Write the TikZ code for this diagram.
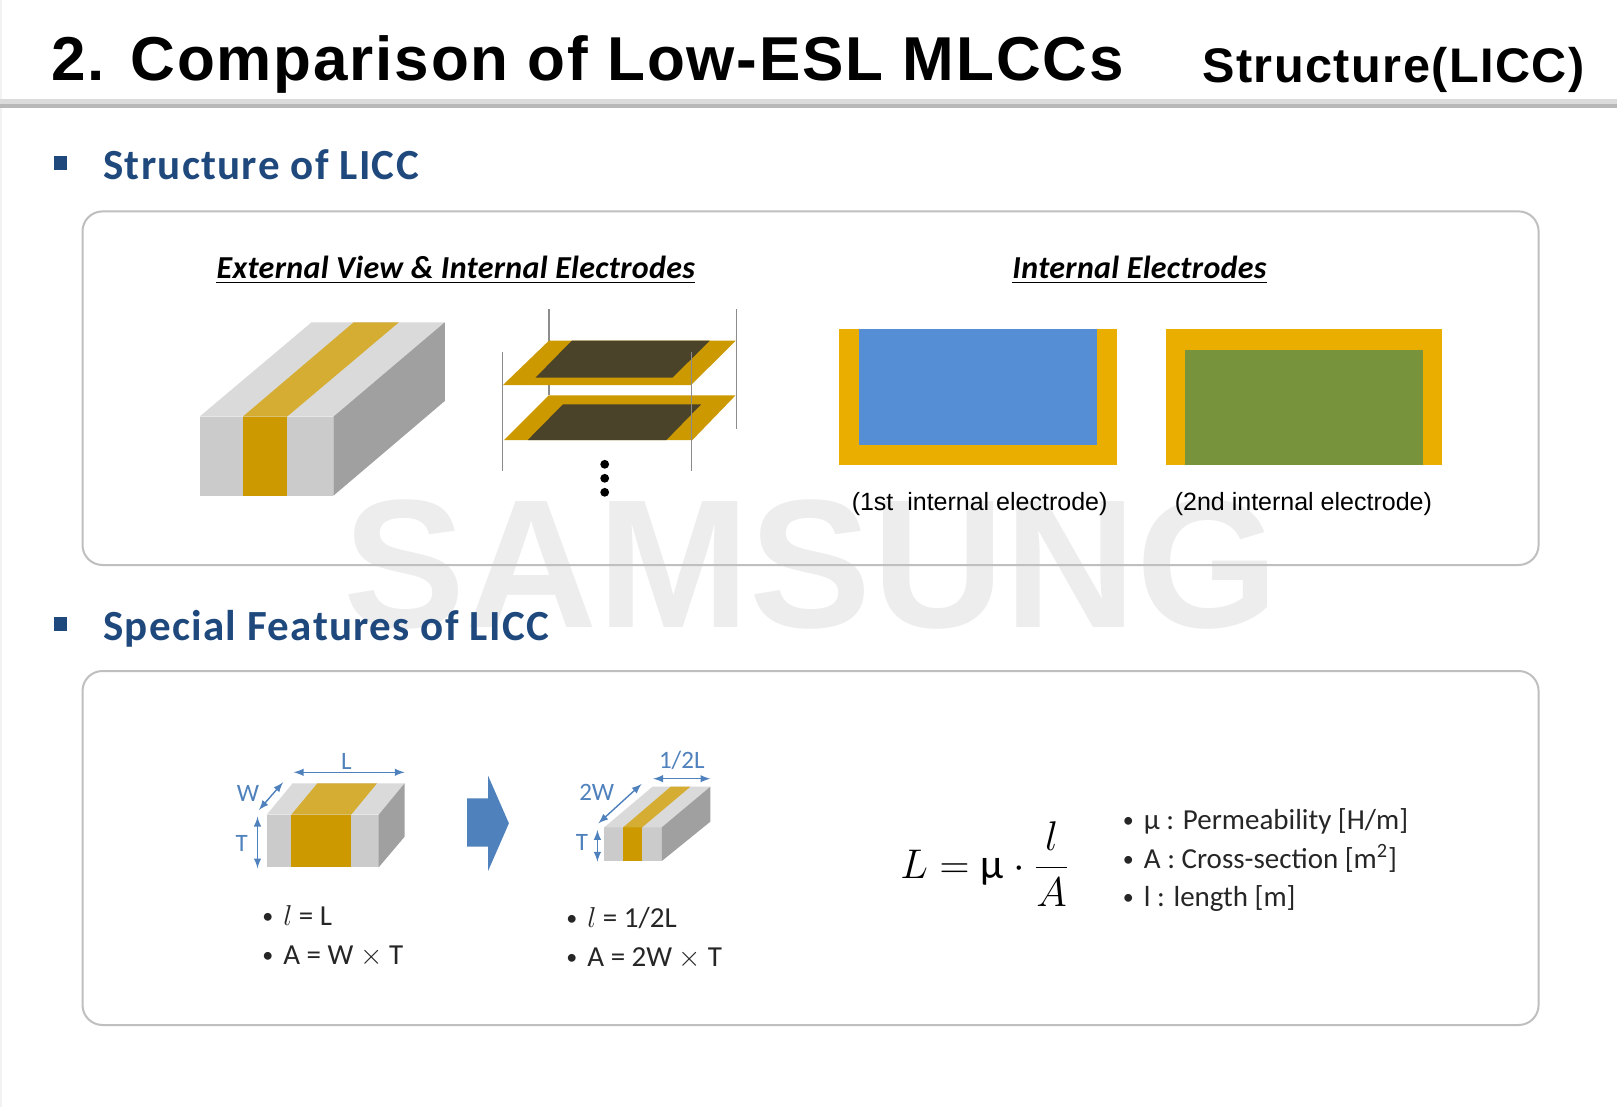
\documentclass[tikz,border=0pt]{standalone}
\usepackage{fontspec}
\setmainfont{Carlito}
\newfontfamily\arialfont{Liberation Sans}
\newfontfamily\titlefont[LetterSpace=3]{Liberation Sans}
\newfontfamily\secfont[LetterSpace=3]{Carlito}
\newfontfamily\subfont[LetterSpace=1]{Carlito}
\definecolor{secblue}{HTML}{1F497D}
\definecolor{dimblue}{HTML}{4F81BD}
\definecolor{gold}{HTML}{CC9900}
\definecolor{goldtop}{HTML}{D6AD33}
\definecolor{goldrect}{HTML}{E9AE00}
\definecolor{darkplate}{HTML}{4A4229}
\definecolor{greyfront}{HTML}{CBCBCB}
\definecolor{greytop}{HTML}{DADADA}
\definecolor{greyside}{HTML}{A0A0A0}
\definecolor{textgrey}{HTML}{262626}
\definecolor{elecblue}{HTML}{558ED5}
\definecolor{elecgreen}{HTML}{77933C}
\newcommand{\bul}{\makebox[10.5pt][l]{\raisebox{0.6pt}{\fontsize{11}{12}\selectfont•}}}
\tikzset{
  panel/.style={draw=black!25,line width=1pt,rounded corners=10pt},
  sechead/.style={anchor=base west,inner sep=0,text=secblue,font=\secfont\fontsize{21.5}{24}\selectfont\bfseries},
  subhead/.style={inner sep=0,anchor=base,font=\subfont\fontsize{16}{19}\selectfont\bfseries\itshape},
  caption/.style={inner sep=0,anchor=base,font=\arialfont\fontsize{12.5}{15}\selectfont},
  listitem/.style={anchor=base west,inner sep=0,text=textgrey,font=\fontsize{14.5}{17}\selectfont},
  dimlabel/.style={inner sep=0,text=dimblue,font=\fontsize{12.5}{15}\selectfont},
  dimarrow/.style={<->,>=latex,draw=dimblue,line width=0.7pt},
  pin/.style={draw=black!45,line width=0.6pt}
}
\begin{document}
\begin{tikzpicture}[x=0.5pt,y=-0.5pt]
\useasboundingbox (0,0) rectangle (1617,1107);
\fill[white] (0,0) rectangle (1617,1107);
\fill[black!5] (0,0) rectangle (1.5,1107);

\node[inner sep=0,anchor=base,text=black!7,font=\arialfont\bfseries\fontsize{91.5}{100}\selectfont] (mark) at (811,627) {SAMSUNG};

\node[anchor=base west,inner sep=0,font=\titlefont\bfseries\fontsize{31}{36}\selectfont] (title) at (51,80.5) {2. Comparison of Low-ESL MLCCs};
\node[anchor=base east,inner sep=0,font=\titlefont\bfseries\fontsize{24.3}{30}\selectfont] (subtitle) at (1585,83) {Structure(LICC)};
\fill[black!14] (0,99.5) rectangle (1617,104.5);
\fill[black!28] (0,104.5) rectangle (1617,108.5);

\fill[secblue] (53.6,156) rectangle (67,170);
\node[sechead] (sec1) at (103,180) {Structure of LICC};
\draw[panel] (82.5,211.4) rectangle (1538.6,565);

\fill[secblue] (53.6,617) rectangle (67,631);
\node[sechead] (sec2) at (103,640) {Special Features of LICC};
\draw[panel] (82.5,671) rectangle (1538.6,1025);

\node[subhead] (head1) at (455.8,278.5) {External View \& Internal Electrodes};
\node[subhead] (head2) at (1139.5,278.5) {Internal Electrodes};
\draw[line width=0.9pt] ([yshift=-2pt]head1.base west) -- ([yshift=-2pt]head1.base east);
\draw[line width=0.9pt] ([yshift=-2pt]head2.base west) -- ([yshift=-2pt]head2.base east);

\fill[greyfront] (199.5,416.7) rectangle (333.4,495.7);
\fill[greytop] (199.5,416.7) -- (311.6,322.3) -- (444.8,322.3) -- (333.4,416.7) -- cycle;
\fill[greyside] (333.4,416.7) -- (444.8,322.3) -- (444.8,401) -- (333.4,495.7) -- cycle;
\fill[gold] (242.7,416.7) rectangle (287,495.7);
\fill[goldtop] (242.7,416.7) -- (353.7,322.3) -- (398.9,322.3) -- (287,416.7) -- cycle;

\draw[pin] (548.9,309.3) -- (548.9,395.3);
\draw[pin] (736.4,309.3) -- (736.4,428.7);
\fill[gold] (504,440) -- (548.9,395.3) -- (735.6,395.3) -- (692.4,440) -- cycle;
\fill[darkplate] (527.8,440) -- (563,404.3) -- (701.2,404.3) -- (666.4,440) -- cycle;
\fill[gold] (503,385) -- (548.9,340.7) -- (735.6,340.7) -- (691.2,385) -- cycle;
\fill[darkplate] (535.5,377.7) -- (571.8,340.7) -- (709.6,340.7) -- (672.5,377.7) -- cycle;
\draw[pin] (502.2,351.7) -- (502.2,471);
\draw[pin] (691.2,351.7) -- (691.2,471);
\fill (604.7,464.3) circle (2.2pt);
\fill (604.7,478.3) circle (2.2pt);
\fill (604.7,492.3) circle (2.2pt);

\fill[goldrect] (838.8,329) rectangle (1116.8,465);
\fill[elecblue] (859,329) rectangle (1097,444.5);
\fill[goldrect] (1165.6,329) rectangle (1441.6,465);
\fill[elecgreen] (1185.4,349.6) rectangle (1423,465);
\node[caption] (cap1) at (979.6,510) {(1st\ \ internal electrode)};
\node[caption] (cap2) at (1303.4,510) {(2nd internal electrode)};

\fill[greyfront] (266.8,814.7) rectangle (378.7,867.3);
\fill[greytop] (266.8,814.7) -- (292.6,783.3) -- (404.6,783.3) -- (378.7,814.7) -- cycle;
\fill[greyside] (378.7,814.7) -- (404.6,783.3) -- (404.6,836.7) -- (378.7,867.3) -- cycle;
\fill[gold] (291.3,814.7) rectangle (351.2,867.3);
\fill[goldtop] (291.3,814.7) -- (317.4,783.3) -- (377,783.3) -- (351.2,814.7) -- cycle;
\draw[dimarrow] (293.7,772.3) -- (404.6,772.3);
\draw[dimarrow] (258.9,810) -- (283,782.3);
\draw[dimarrow] (257.5,816.7) -- (257.5,868.3);
\node[dimlabel] (dimL) at (346.4,761) {L};
\node[dimlabel] (dimW) at (248,793) {W};
\node[dimlabel] (dimT) at (241.7,843) {T};

\fill[dimblue] (467.2,798.3) -- (488.2,798.3) -- (488.2,776) -- (508.9,823.3) -- (488.2,870.7) -- (488.2,846.7) -- (467.2,846.7) -- cycle;

\fill[greyfront] (604.3,827.3) rectangle (661.8,861);
\fill[greytop] (604.3,827.3) -- (652.5,786.7) -- (710.3,786.7) -- (661.8,827.3) -- cycle;
\fill[greyside] (661.8,827.3) -- (710.3,786.7) -- (710.3,821.7) -- (661.8,861) -- cycle;
\fill[gold] (623.2,827.3) rectangle (642.2,861);
\fill[goldtop] (623.2,827.3) -- (670.7,786.7) -- (690.4,786.7) -- (642.2,827.3) -- cycle;
\draw[dimarrow] (653.2,778.7) -- (710.3,778.7);
\draw[dimarrow] (598.4,823.3) -- (641.5,784);
\draw[dimarrow] (597.4,830) -- (597.4,861.7);
\node[dimlabel] (dimL2) at (681.8,760.5) {1/2L};
\node[dimlabel] (dimW2) at (596.7,792.5) {2W};
\node[dimlabel] (dimT2) at (581.9,842.5) {T};

\node[listitem] (len1) at (262,925) {\bul$l$ = L};
\node[listitem] (area1) at (262,964) {\bul A = W $\times$ T};
\node[listitem] (len2) at (566,927) {\bul$l$ = 1/2L};
\node[listitem] (area2) at (566,966) {\bul A = 2W $\times$ T};

\node[anchor=west,inner sep=0,font=\fontsize{21}{25}\selectfont] (formula) at (900,864) {$\displaystyle L=\mbox{µ}\cdot\frac{l}{A}$};

\node[listitem] (item1) at (1122.5,829) {\bul µ : Permeability [H/m]};
\node[listitem] (item2) at (1122.5,868) {\bul A : Cross-section [m\textsuperscript{2}]};
\node[listitem] (item3) at (1122.5,906) {\bul l : length [m]};
\end{tikzpicture}
\end{document}
